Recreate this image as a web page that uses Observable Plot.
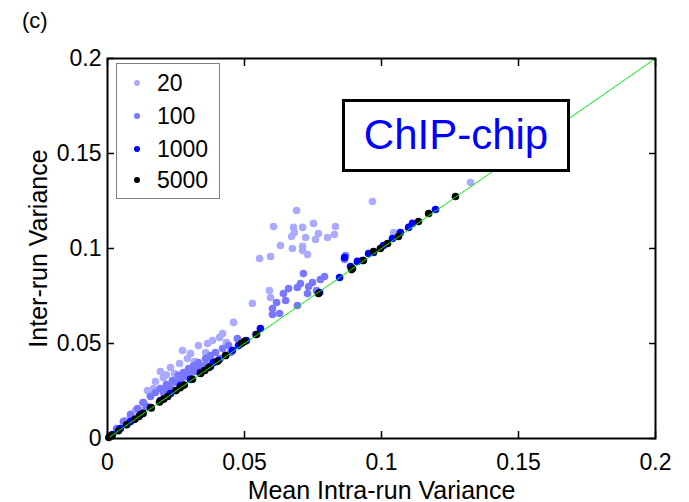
<!DOCTYPE html>
<html>
<head>
<meta charset="utf-8">
<script src="https://cdn.jsdelivr.net/npm/d3@7"></script>
<script src="https://cdn.jsdelivr.net/npm/@observablehq/plot@0.6"></script>
<style>
  body { margin: 0; background: #fff; }
  #wrap { position: relative; width: 689px; height: 502px; font-family: "Liberation Sans", Arial, sans-serif; }
  #panel { position: absolute; left: 22px; top: 8px; font-size: 22px; color: #000; }
  #legend { position: absolute; left: 116px; top: 63px; width: 104px; height: 136px; border: 1px solid #7f7f7f; background: #fff; box-sizing: border-box; }
  .entry { position: absolute; left: 0; height: 30px; line-height: 30px; font-size: 23px; }
  .entry .dot { position: absolute; left: 17px; top: 12px; width: 6px; height: 6px; border-radius: 50%; }
  .entry .lab { position: absolute; left: 40px; top: 0; white-space: nowrap; }
  #chip { position: absolute; left: 342px; top: 99px; width: 228px; height: 73px; border: 3px solid #000; background: #fff; box-sizing: border-box; color: #0000ff; font-size: 42px; text-align: center; line-height: 66px; }
</style>
</head>
<body>
<div id="wrap">
  <div id="chart"></div>
  <div id="panel">(c)</div>
  <div id="legend"></div>
  <div id="chip">ChIP-chip</div>
</div>
<script>
// ---- data ----
const series = ["20", "100", "1000", "5000"];
const colors = ["#aaaaff", "#7777ff", "#0000ff", "#000000"];
const ticks = [0, 0.05, 0.1, 0.15, 0.2];
const diagonal = [0, 0.2];
const panelLabel = "(c)";
const xLabel = "Mean Intra-run Variance";
const yLabel = "Inter-run Variance";
const boxLabel = "ChIP-chip";

const x20 = [0.0967,0.1325,0.0690,0.0606,0.0679,0.0682,0.0712,0.0752,0.0832,0.0672,0.0723,0.0770,0.0759,0.0803,0.0828,0.0631,0.0675,0.0712,0.0712,0.0730,0.0555,0.0595,0.0529,0.0460,0.0409,0.0365,0.0274,0.0303,0.0263,0.0230,0.0193,0.0168,0.0131,0.0591,0.0595,0.1044,0.0204,0.0175,0.0146,0.0128,0.0332,0.0383,0.0292,0.0358,0.0420,0.0434,0.0102,0.0066,0.0245,0.0215,0.0318,0.0155,0.0085];
const y20 = [0.1247,0.1347,0.1200,0.1116,0.1111,0.1084,0.1111,0.1132,0.1116,0.1063,0.1058,0.1079,0.1047,0.1058,0.1074,0.1016,0.1000,0.1011,0.0989,0.0968,0.0947,0.0958,0.0711,0.0611,0.0532,0.0500,0.0463,0.0447,0.0395,0.0374,0.0353,0.0263,0.0147,0.0779,0.0742,0.1084,0.0321,0.0300,0.0253,0.0189,0.0489,0.0516,0.0421,0.0453,0.0553,0.0505,0.0147,0.0095,0.0342,0.0335,0.0405,0.0232,0.0128];

const x100 = [0.0715,0.0792,0.0748,0.0704,0.0734,0.0661,0.0693,0.0642,0.0730,0.0650,0.0617,0.0602,0.0628,0.0602,0.0693,0.0869,0.0865,0.0777,0.0763,0.0474,0.0442,0.0420,0.0394,0.0376,0.0358,0.0332,0.0314,0.0296,0.0277,0.0259,0.0237,0.0215,0.0193,0.0175,0.0157,0.0131,0.0109,0.0084,0.0058,0.0033,0.0339,0.0303,0.0383,0.0412,0.0252,0.0219,0.0285,0.0449,0.0540,0.0358,0.0268,0.0230,0.0320,0.0205,0.0142];
const y100 = [0.0868,0.0853,0.0821,0.0816,0.0800,0.0789,0.0795,0.0763,0.0763,0.0726,0.0716,0.0684,0.0658,0.0653,0.0700,0.0963,0.0942,0.0837,0.0779,0.0526,0.0489,0.0474,0.0453,0.0437,0.0421,0.0400,0.0384,0.0368,0.0347,0.0332,0.0305,0.0284,0.0263,0.0242,0.0221,0.0189,0.0158,0.0126,0.0089,0.0053,0.0368,0.0347,0.0405,0.0421,0.0295,0.0258,0.0326,0.0453,0.0547,0.0389,0.0300,0.0268,0.0352,0.0240,0.0170];

const x1000 = [0.0558,0.0847,0.0865,0.0887,0.0912,0.0931,0.0953,0.0971,0.1197,0.1113,0.1099,0.1069,0.1040,0.1007,0.0774,0.0456,0.0431,0.0405,0.0376,0.0339,0.0303,0.0266,0.0230,0.0193,0.0157,0.0120,0.0084,0.0047,0.0018,0.0507,0.0387,0.0478];
const y1000 = [0.0579,0.0847,0.0953,0.0905,0.0932,0.0937,0.0974,0.0979,0.1205,0.1132,0.1111,0.1084,0.1053,0.1016,0.0768,0.0463,0.0437,0.0411,0.0379,0.0347,0.0311,0.0279,0.0237,0.0200,0.0163,0.0126,0.0089,0.0053,0.0021,0.0516,0.0400,0.0489];

const x5000 = [0.1270,0.1172,0.1135,0.1062,0.1022,0.0996,0.0971,0.0934,0.0894,0.0770,0.0544,0.0891,0.0500,0.0489,0.0431,0.0400,0.0370,0.0340,0.0310,0.0280,0.0250,0.0220,0.0190,0.0160,0.0130,0.0100,0.0070,0.0040,0.0015,0.0005,0.0355,0.0265,0.0205,0.0115];
const y5000 = [0.1274,0.1184,0.1142,0.1063,0.1026,0.1000,0.0984,0.0937,0.0895,0.0763,0.0547,0.0889,0.0511,0.0500,0.0437,0.0405,0.0374,0.0342,0.0312,0.0281,0.0252,0.0221,0.0192,0.0161,0.0132,0.0101,0.0072,0.0041,0.0015,0.0005,0.0358,0.0267,0.0207,0.0116];

// ---- build table ----
const xs = [x20, x100, x1000, x5000];
const ys = [y20, y100, y1000, y5000];
const points = [];
series.forEach((s, i) => xs[i].forEach((x, j) => points.push({series: s, x, y: ys[i][j]})));
const diag = diagonal.map(v => ({x: v, y: v}));

const chart = Plot.plot({
  width: 689,
  height: 502,
  marginLeft: 107,
  marginRight: 34,
  marginTop: 58,
  marginBottom: 64,
  style: {fontFamily: '"Liberation Sans", Arial, sans-serif', background: "white", color: "black"},
  x: {domain: [0, 0.2]},
  y: {domain: [0, 0.2]},
  color: {domain: series, range: colors},
  marks: [
    Plot.dot(points, {x: "x", y: "y", fill: "series", r: 3.8}),
    Plot.line(diag, {x: "x", y: "y", stroke: "#00ee00", strokeWidth: 1}),
    Plot.frame({stroke: "black", strokeWidth: 2}),
    Plot.axisX({ticks, tickSize: -7, tickPadding: 22, fontSize: 23, label: null, tickFormat: d => String(d), strokeWidth: 1.5}),
    Plot.axisX({anchor: "top", ticks, tickSize: -7, label: null, tickFormat: () => "", strokeWidth: 1.5}),
    Plot.axisY({ticks, tickSize: -7, tickPadding: 13, fontSize: 23, label: null, tickFormat: d => String(d), strokeWidth: 1.5}),
    Plot.axisY({anchor: "right", ticks, tickSize: -7, label: null, tickFormat: () => "", strokeWidth: 1.5}),
    Plot.text([xLabel], {text: d => d, frameAnchor: "bottom", dy: 52, fontSize: 25, lineAnchor: "middle"}),
    Plot.text([yLabel], {text: d => d, frameAnchor: "left", dx: -69, rotate: -90, fontSize: 25, lineAnchor: "middle", textAnchor: "middle"})
  ]
});
document.getElementById("chart").appendChild(chart);

document.getElementById("panel").textContent = panelLabel;
document.getElementById("chip").textContent = boxLabel;
const legend = document.getElementById("legend");
const legendTops = [4, 37, 70, 101];
series.forEach((s, i) => {
  const e = document.createElement("div");
  e.className = "entry";
  e.style.top = legendTops[i] + "px";
  e.innerHTML = `<span class="dot" style="background:${colors[i]}"></span><span class="lab">${s}</span>`;
  legend.appendChild(e);
});
</script>
</body>
</html>
